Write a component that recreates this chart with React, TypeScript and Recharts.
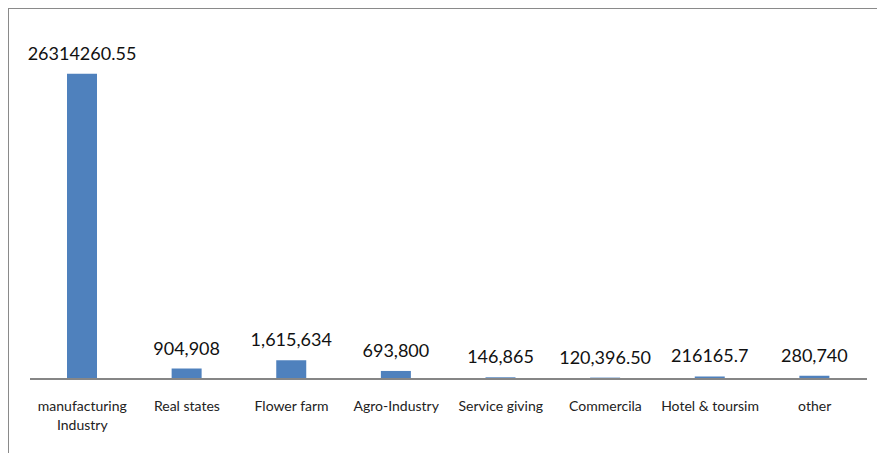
import React from 'react';
import { BarChart, Bar, XAxis, YAxis, LabelList } from 'recharts';

const categories = [
  'manufacturing Industry',
  'Real states',
  'Flower farm',
  'Agro-Industry',
  'Service giving',
  'Commercila',
  'Hotel & toursim',
  'other',
];
const values = [26314260.55, 904908, 1615634, 693800, 146865, 120396.5, 216165.7, 280740];
const valueLabels = [
  '26314260.55',
  '904,908',
  '1,615,634',
  '693,800',
  '146,865',
  '120,396.50',
  '216165.7',
  '280,740',
];

const data = categories.map((name, i) => ({ name, value: values[i], label: valueLabels[i] }));

const FONT = 'Lato, "Open Sans", sans-serif';

// category labels wrap onto two lines like the original
const CategoryTick = (props: any) => {
  const { x, y, payload } = props;
  const words: string[] = payload.value === 'manufacturing Industry'
    ? ['manufacturing', 'Industry']
    : [payload.value];
  return (
    <text x={x} y={y} textAnchor="middle" fontFamily={FONT} fontSize={14} fill="#222">
      {words.map((w, i) => (
        <tspan key={i} x={x} dy={i === 0 ? 32 : 19}>
          {w}
        </tspan>
      ))}
    </text>
  );
};

export default function App() {
  return (
    <div
      style={{
        position: 'fixed',
        top: 8,
        left: 8,
        width: 900,
        height: 460,
        overflow: 'hidden',
        borderTop: '1px solid #8a8a8a',
        borderLeft: '1px solid #8a8a8a',
        background: '#fff',
      }}
    >
      <BarChart
        width={868}
        height={444}
        data={data}
        margin={{ top: 22, right: 10, left: 21, bottom: 14 }}
        barSize={30}
      >
        <XAxis
          dataKey="name"
          axisLine={{ stroke: '#868686', strokeWidth: 2 }}
          tickLine={false}
          tickSize={0}
          tickMargin={0}
          height={60}
          interval={0}
          tick={<CategoryTick />}
        />
        <YAxis hide domain={[0, 30000000]} />
        <Bar dataKey="value" fill="#4f81bd" isAnimationActive={false}>
          <LabelList
            dataKey="label"
            position="top"
            offset={14}
            fill="#111"
            fontSize={18}
            fontFamily={FONT}
          />
        </Bar>
      </BarChart>
    </div>
  );
}
